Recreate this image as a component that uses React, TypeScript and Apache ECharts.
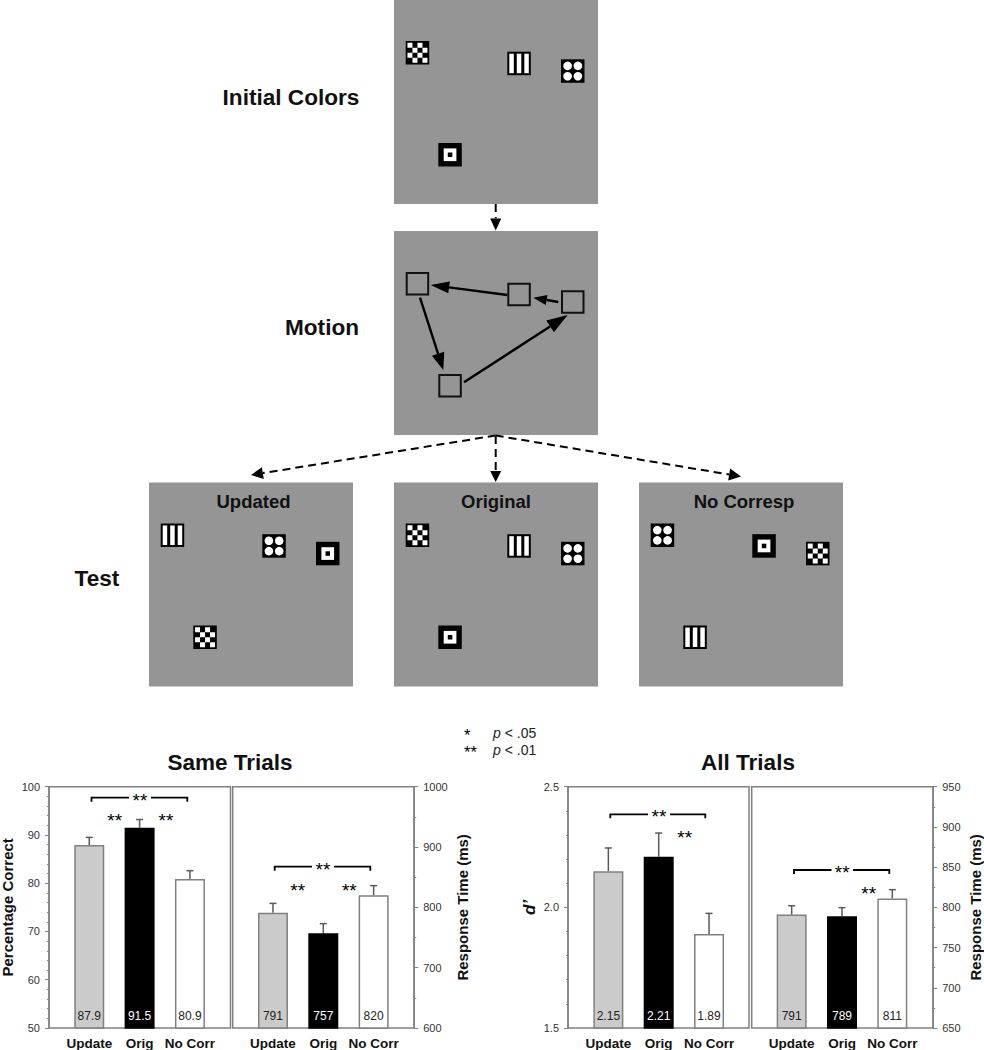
import React, { useEffect, useRef } from "react";
import * as echarts from "echarts";

const FONT = "Liberation Sans";
const GRAY = "#808080";

// ---- chart data ----
const categories = ["Update", "Orig", "No Corr"];
const barFills = ["#cbcbcb", "#000000", "#ffffff"];
const barBorders = ["#808080", "#000000", "#808080"];
const labelColors = ["#222222", "#ffffff", "#222222"];

const sameAccuracy = [87.9, 91.5, 80.9];
const sameAccuracyTop = [89.5, 93.2, 82.6];
const sameRT = [791, 757, 820];
const sameRTTop = [806.6, 773, 836];
const allDprime = [2.15, 2.21, 1.89];
const allDprimeLabels = ["2.15", "2.21", "1.89"];
const allDprimeTop = [2.246, 2.308, 1.975];
const allRT = [791, 789, 811];
const allRTTop = [802, 799.6, 822];

const panelTitles = ["Same Trials", "All Trials"];
const sideLabels = ["Initial Colors", "Motion", "Test"];
const testTitles = ["Updated", "Original", "No Corresp"];
const pLegendStars = ["*", "**"];
const pLegendTexts = ["{i|p} < .05", "{i|p} < .01"];

type Kind = "check" | "stripes" | "dots" | "target";
const initialOrder: Kind[] = ["check", "stripes", "dots", "target"];
const updatedOrder: Kind[] = ["stripes", "dots", "target", "check"];
const originalOrder: Kind[] = ["check", "stripes", "dots", "target"];
const noCorrOrder: Kind[] = ["dots", "target", "check", "stripes"];

// ---- schematic helpers ----
const SLOTS = [
  [11.7, 41],
  [113.3, 51.7],
  [167, 59.3],
  [44.3, 143],
];
const SIZE = 23.5;
const PANEL = 204;

const rect = (x: number, y: number, w: number, h: number, fill: string, extra: any = {}) => ({
  type: "rect",
  silent: true,
  shape: { x, y, width: w, height: h },
  style: { fill, ...extra },
});

function stimulus(kind: Kind, x: number, y: number): any[] {
  const out: any[] = [rect(x, y, SIZE, SIZE, "#000000")];
  if (kind === "check") {
    for (let r = 0; r < 4; r++)
      for (let c = 0; c < 4; c++)
        if ((r + c) % 2 === 0) out.push(rect(x + 1.75 + c * 5, y + 1.75 + r * 5, 5, 5, "#ffffff"));
  } else if (kind === "stripes") {
    [2, 9.5, 17].forEach((o) => out.push(rect(x + o, y + 2, 4.5, SIZE - 4, "#ffffff")));
  } else if (kind === "dots") {
    [6.6, 16.9].forEach((cy) =>
      [6.6, 16.9].forEach((cx) =>
        out.push({
          type: "circle",
          silent: true,
          shape: { cx: x + cx, cy: y + cy, r: 4.3 },
          style: { fill: "#ffffff" },
        })
      )
    );
  } else {
    out.push(rect(x + 5.4, y + 5.4, 12.7, 12.7, "#ffffff"));
    out.push(rect(x + 9.5, y + 9.5, 4.5, 4.5, "#000000"));
  }
  return out;
}

function screen(x: number, y: number, order: Kind[] | null): any[] {
  const out: any[] = [rect(x, y, PANEL, PANEL, "#959595")];
  SLOTS.forEach(([dx, dy], i) => {
    if (order) out.push(...stimulus(order[i], x + dx, y + dy));
    else out.push(rect(x + dx + 1, y + dy + 1, SIZE - 2, SIZE - 2, "#959595", { stroke: "#111111", lineWidth: 2 }));
  });
  return out;
}

function arrow(
  x1: number,
  y1: number,
  x2: number,
  y2: number,
  headLen: number,
  headW: number,
  dashed = false
): any[] {
  const a = Math.atan2(y2 - y1, x2 - x1);
  const bx = x2 - headLen * Math.cos(a);
  const by = y2 - headLen * Math.sin(a);
  const nx = (-Math.sin(a) * headW) / 2;
  const ny = (Math.cos(a) * headW) / 2;
  return [
    {
      type: "line",
      silent: true,
      shape: { x1, y1, x2: bx, y2: by },
      style: { stroke: "#000000", lineWidth: dashed ? 2 : 2.4, lineDash: dashed ? [8, 5] : undefined },
    },
    {
      type: "polygon",
      silent: true,
      shape: {
        points: [
          [x2, y2],
          [bx + nx, by + ny],
          [bx - nx, by - ny],
        ],
      },
      style: { fill: "#000000" },
    },
  ];
}

const label = (text: string, x: number, y: number, font: string, extra: any = {}) => ({
  type: "text",
  silent: true,
  x,
  y,
  style: {
    text,
    font,
    fill: "#111111",
    textAlign: "center",
    textVerticalAlign: "middle",
    ...extra,
  },
});

const starFont = `19px "${FONT}"`;

function bracket(x1: number, x2: number, y: number, gapL: number, gapR: number): any[] {
  const line = (pts: number[][]) => ({
    type: "polyline",
    silent: true,
    shape: { points: pts },
    style: { stroke: "#000000", lineWidth: 1.8, fill: "none" },
  });
  return [
    line([
      [x1, y + 4],
      [x1, y],
      [gapL, y],
    ]),
    line([
      [gapR, y],
      [x2, y],
      [x2, y + 4],
    ]),
    label("**", (gapL + gapR) / 2, y + 2.5, starFont, { fill: "#000000" }),
  ];
}

const star = (x: number, y: number) => label("**", x, y + 2.5, starFont, { fill: "#000000" });

// ---- panel geometry: frame is the visible box, inner is the band area for the bars ----
const FRAME_TOP = 786.7;
const FRAME_HEIGHT = 241.3;
const FRAMES = [
  { left: 49, width: 181.5, inner: 64.1 },
  { left: 232.7, width: 181.5, inner: 247.8 },
  { left: 568, width: 181, inner: 583.2 },
  { left: 751.7, width: 181.5, inner: 766.5 },
];
const INNER_WIDTH = 151;

function buildGraphic(): any[] {
  const els: any[] = [];
  els.push(...screen(394, 0, initialOrder));
  els.push(...screen(394, 231, null));
  els.push(...screen(149, 482.5, updatedOrder));
  els.push(...screen(394, 482.5, originalOrder));
  els.push(...screen(639, 482.5, noCorrOrder));

  // panel frames
  FRAMES.forEach((f) =>
    els.push({
      ...rect(f.left, FRAME_TOP, f.width, FRAME_HEIGHT, "none", { stroke: GRAY, lineWidth: 1.5 }),
    })
  );

  // motion arrows
  els.push(...arrow(507.3, 295, 430.7, 285, 18.5, 12));
  els.push(...arrow(558.3, 302, 533.3, 297.7, 13.5, 10));
  els.push(...arrow(420, 297.7, 443.3, 370, 17, 13));
  els.push(...arrow(464, 382.3, 567.7, 315, 21, 14));

  // dashed flow arrows
  els.push(...arrow(495.7, 204, 495.7, 230.5, 12, 11, true));
  els.push(...arrow(495.7, 436, 495.7, 482, 11, 11, true));
  els.push(...arrow(495.7, 435.5, 251, 475, 12, 12, true));
  els.push(...arrow(495.7, 435.5, 741, 476.5, 12, 12, true));

  // labels
  els.push(label(sideLabels[0], 291, 97, `bold 22.6px "${FONT}"`));
  els.push(label(sideLabels[1], 322, 327, `bold 22.6px "${FONT}"`));
  els.push(label(sideLabels[2], 97, 578, `bold 22.6px "${FONT}"`));
  els.push(label(testTitles[0], 253.5, 501, `bold 18.5px "${FONT}"`));
  els.push(label(testTitles[1], 496, 501, `bold 18.5px "${FONT}"`));
  els.push(label(testTitles[2], 744, 501, `bold 18.5px "${FONT}"`));

  // significance legend
  pLegendTexts.forEach((text, i) => {
    const y = 733 + i * 17;
    els.push(label(pLegendStars[i], 464, y + 2, `16.5px "${FONT}"`, { textAlign: "left", fill: "#000000" }));
    els.push(
      label(text, 493, y, `14px "${FONT}"`, {
        textAlign: "left",
        fill: "#222222",
        rich: { i: { font: `italic 14px "${FONT}"`, fill: "#222222" } },
      })
    );
  });

  // significance marks
  els.push(...bracket(91.5, 187.3, 797.7, 129, 151));
  els.push(star(114.7, 818), star(166, 818));
  els.push(...bracket(274.7, 370.3, 866.7, 312, 334));
  els.push(star(297.7, 887.7), star(349.3, 887.7));
  els.push(...bracket(610.3, 705.3, 814.3, 648, 670));
  els.push(star(684.7, 834.7));
  els.push(...bracket(794, 889.3, 870, 831.5, 853));
  els.push(star(868.7, 891));
  return els;
}

// ---- chart option helpers ----
function xAxisFor(gridIndex: number) {
  return {
    type: "category",
    gridIndex,
    data: categories,
    splitLine: { show: false },
    axisTick: { show: false },
    axisLine: { show: false },
    axisLabel: {
      interval: 0,
      margin: 8,
      color: "#111111",
      fontFamily: FONT,
      fontWeight: "bold",
      fontSize: 13.5,
    },
  };
}

function yAxisFor(
  gridIndex: number,
  position: string,
  min: number,
  max: number,
  interval: number,
  minorSplit: number,
  name: string,
  nameGap: number,
  decimals: number,
  offset: number,
  nameStyle: any = {}
) {
  return {
    type: "value",
    gridIndex,
    position,
    offset,
    min,
    max,
    interval,
    name,
    nameLocation: "middle",
    nameRotate: 90,
    nameGap,
    nameTextStyle: { fontFamily: FONT, fontWeight: "bold", fontSize: 15, color: "#111111", ...nameStyle },
    splitLine: { show: false },
    axisLine: { show: true, onZero: false, lineStyle: { color: GRAY, width: 1.5 } },
    axisTick: { show: true, length: 4, lineStyle: { color: GRAY, width: 1 } },
    minorTick: { show: true, splitNumber: minorSplit, length: 2, lineStyle: { color: GRAY, width: 1 } },
    axisLabel: {
      margin: 9,
      color: "#333333",
      fontFamily: FONT,
      fontSize: 11,
      formatter: (v: number) => v.toFixed(decimals),
    },
  };
}

function barSeries(idx: number, values: number[], labels: string[] | null) {
  return {
    type: "bar",
    xAxisIndex: idx,
    yAxisIndex: idx,
    barWidth: 30,
    z: 2,
    data: values.map((v, i) => ({
      value: v,
      itemStyle: { color: barFills[i], borderColor: barBorders[i], borderWidth: 1.5 },
      label: { color: labelColors[i] },
    })),
    label: {
      show: true,
      position: "insideBottom",
      distance: 7,
      fontFamily: FONT,
      fontSize: 12,
      formatter: (p: any) => (labels ? labels[p.dataIndex] : String(p.value)),
    },
  };
}

function errorSeries(idx: number, values: number[], tops: number[]) {
  return {
    type: "custom",
    xAxisIndex: idx,
    yAxisIndex: idx,
    z: 1,
    silent: true,
    data: tops.map((t, i) => [i, values[i], t]),
    encode: { x: 0, y: 2 },
    renderItem: (_: any, api: any) => {
      const [x, y0] = api.coord([api.value(0), api.value(1)]);
      const [, y1] = api.coord([api.value(0), api.value(2)]);
      const style = { stroke: "#595959", lineWidth: 1.5 };
      return {
        type: "group",
        children: [
          { type: "line", shape: { x1: x, y1: y0, x2: x, y2: y1 }, style },
          { type: "line", shape: { x1: x - 3.5, y1, x2: x + 3.5, y2: y1 }, style },
        ],
      };
    },
  };
}

const titleStyle = { fontFamily: FONT, fontWeight: "bold", fontSize: 22.5, color: "#111111" };

export default function App() {
  const ref = useRef<HTMLDivElement>(null);
  useEffect(() => {
    if (!ref.current) return;
    document.body.style.margin = "0";
    const chart = echarts.init(ref.current, null, { renderer: "svg", width: 984, height: 1050 });
    chart.setOption({
      animation: false,
      backgroundColor: "#ffffff",
      title: [
        { text: panelTitles[0], left: 225, top: 746, textAlign: "center", textStyle: titleStyle },
        { text: panelTitles[1], left: 743, top: 746, textAlign: "center", textStyle: titleStyle },
      ],
      grid: FRAMES.map((f) => ({
        left: f.inner,
        width: INNER_WIDTH,
        top: FRAME_TOP,
        height: FRAME_HEIGHT,
        outerBoundsMode: "none",
      })),
      xAxis: [0, 1, 2, 3].map(xAxisFor),
      yAxis: [
        yAxisFor(0, "left", 50, 100, 10, 5, "Percentage Correct", 34, 0, 15.1),
        yAxisFor(1, "right", 600, 1000, 100, 2, "Response Time (ms)", 41, 0, 15.4),
        yAxisFor(2, "left", 1.5, 2.5, 0.5, 5, "d\u2019", 30, 1, 15.2, { fontStyle: "italic", fontSize: 17 }),
        yAxisFor(3, "right", 650, 950, 50, 2, "Response Time (ms)", 35, 0, 15.7),
      ],
      series: [
        errorSeries(0, sameAccuracy, sameAccuracyTop),
        barSeries(0, sameAccuracy, null),
        errorSeries(1, sameRT, sameRTTop),
        barSeries(1, sameRT, null),
        errorSeries(2, allDprime, allDprimeTop),
        barSeries(2, allDprime, allDprimeLabels),
        errorSeries(3, allRT, allRTTop),
        barSeries(3, allRT, null),
      ],
      graphic: { elements: buildGraphic() },
    });
    return () => chart.dispose();
  }, []);
  return (
    <div
      ref={ref}
      style={{ position: "absolute", left: 0, top: 0, width: 984, height: 1050, overflow: "hidden" }}
    />
  );
}
